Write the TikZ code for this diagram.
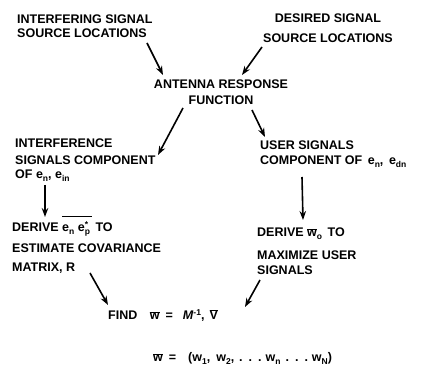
\documentclass[tikz,border=0pt]{standalone}
\usepackage{fontspec}
\setmainfont{Liberation Sans}
\usetikzlibrary{arrows.meta,calc}
\newcommand{\lsub}[1]{\raisebox{-3pt}{\fontsize{8.5}{8.5}\selectfont #1}}
\newcommand{\lsup}[1]{\raisebox{4.5pt}{\fontsize{8.5}{8.5}\selectfont #1}}
\newcommand{\wbar}{\ensuremath{\overline{\mbox{w}}}}
\newcommand{\Vbar}{\ensuremath{\overline{\mbox{V}}}}
\newcommand{\ldts}{\hspace{5pt}.\hspace{6pt}.\hspace{6pt}.\hspace{4pt}}
\begin{document}
\begin{tikzpicture}[x=1pt,y=-1pt,
  lbl/.style={inner sep=0pt, font=\bfseries\fontsize{12.5}{#1}\selectfont},
  lbl/.default=16,
  arr/.style={line width=1.6pt, -{Stealth[length=9pt,width=6.5pt]}}]
\useasboundingbox (0,0) rectangle (421,366);
\node[lbl=14, anchor=north west, align=left] (isl) at (17,15) {INTERFERING SIGNAL\\SOURCE LOCATIONS};
\node[lbl=20, anchor=north, align=center] (dsl) at (328,14) {DESIRED SIGNAL\\SOURCE LOCATIONS};
\node[lbl=16, anchor=north, align=center] (arf) at (221,80) {ANTENNA RESPONSE\\FUNCTION};
\node[lbl=14, anchor=north west, align=left] (isc) at (15,139) {INTERFERENCE\\[3pt]SIGNALS COMPONENT\\OF e\lsub{n}, e\lsub{in}};
\node[lbl=15, anchor=north west, align=left] (usc) at (260,141) {USER SIGNALS\\COMPONENT OF \,e\lsub{n}, \,e\lsub{dn}};
\node[lbl=19, anchor=north west, align=left] (dcov) at (12,223) {DERIVE \smash{$\overline{\mbox{\rule{0pt}{14.5pt}e\lsub{n} e\rlap{\lsup{*}}\lsub{p}\,}}$} TO\\[2pt]ESTIMATE COVARIANCE\\MATRIX, R};
\node[lbl=15, anchor=north west, align=left] (dw) at (257,228) {DERIVE \smash{\wbar\lsub{o}} \,TO\\[8pt]MAXIMIZE USER\\SIGNALS};
\node[lbl, anchor=base west] (find) at (108,320) {FIND \hspace{9pt}\wbar{}\hspace{6pt}=\hspace{10pt}\textit{M}\lsup{-1},\hspace{5pt}\Vbar};
\node[lbl, anchor=base west] (wvec) at (153,362) {\wbar{}\hspace{6pt}=\hspace{12pt}(w\lsub{1},\hspace{6pt}w\lsub{2},\ldts w\lsub{n}\ldts w\lsub{N})};
\draw[arr] ([shift={(130,28)}]isl.north west) -- ([shift={(-58,-5)}]arf.north);
\draw[arr] ([shift={(-66,33)}]dsl.north) -- ([shift={(21,-5)}]arf.north);
\draw[arr] ([shift={(-38,28)}]arf.north) -- ([shift={(143,16)}]isc.north west);
\draw[arr] ([shift={(31,30)}]arf.north) -- ([shift={(5,-4)}]usc.north west);
\draw[arr] ([shift={(30,46)}]isc.north west) -- ([shift={(33,-6)}]dcov.north west);
\draw[arr] ([shift={(42,36)}]usc.north west) -- ([shift={(46,-8)}]dw.north west);
\draw[arr] ([shift={(78,50)}]dcov.north west) -- ([shift={(0,-15)}]find.base west);
\draw[arr] ([shift={(3,52)}]dw.north west) -- ([shift={(137,-13)}]find.base west);
\end{tikzpicture}
\end{document}
